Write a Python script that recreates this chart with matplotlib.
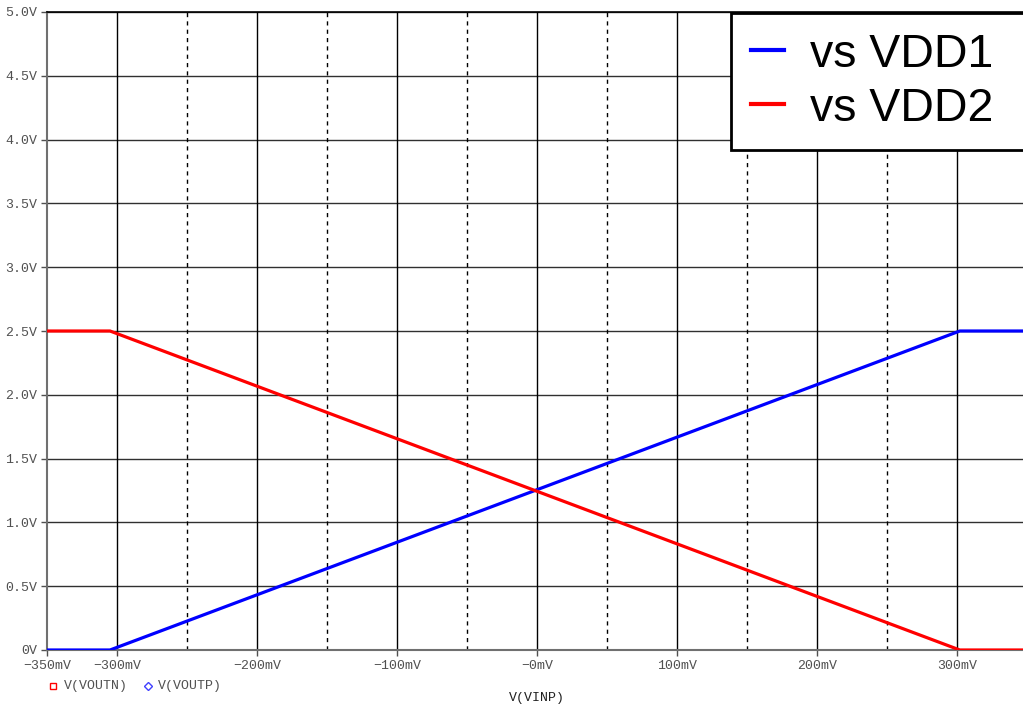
import matplotlib
matplotlib.use("Agg")
import matplotlib.pyplot as plt
from matplotlib.lines import Line2D

# Sweep of V(VINP) in mV and the two output traces in V
vinp_mv = [-350, -305, 302, 350]
vout_vdd1 = [0.0, 0.0, 2.5, 2.5]
vout_vdd2 = [2.5, 2.5, 0.0, 0.0]

x_ticks = [-350, -300, -200, -100, 0, 100, 200, 300]
x_tick_labels = ["\u2212350mV", "\u2212300mV", "\u2212200mV", "\u2212100mV",
                 "\u22120mV", "100mV", "200mV", "300mV"]
x_major_grid = [-300, -200, -100, 0, 100, 200, 300]
x_minor_grid = [-250, -150, -50, 50, 150, 250]
y_ticks = [0.0, 0.5, 1.0, 1.5, 2.0, 2.5, 3.0, 3.5, 4.0, 4.5, 5.0]
y_tick_labels = ["0V", "0.5V", "1.0V", "1.5V", "2.0V", "2.5V",
                 "3.0V", "3.5V", "4.0V", "4.5V", "5.0V"]
series_names = ["vs VDD1", "vs VDD2"]

W, H = 1023, 707
fig = plt.figure(figsize=(W / 100, H / 100), dpi=100)
ax = fig.add_axes([47 / W, 57 / H, (1027 - 47) / W, 638 / H])

mono = "Liberation Mono"
tick_color = "#505050"

ax.set_xlim(-350, 350)
ax.set_ylim(0, 5.0)

# grid
for y in y_ticks[1:]:
    ax.axhline(y, color="#303030", lw=1.0, zorder=1)
for x in x_major_grid:
    ax.axvline(x, color="black", lw=1.0, zorder=1)
for x in x_minor_grid:
    ax.axvline(x, color="black", lw=1.0, ls=(0, (3, 3)), zorder=1)

ax.plot(vinp_mv, vout_vdd1, color="#0000ff", lw=2.3, label=series_names[0], zorder=3)
ax.plot(vinp_mv, vout_vdd2, color="#ff0000", lw=2.3, label=series_names[1], zorder=3)

ax.set_xticks(x_ticks)
ax.set_xticklabels(x_tick_labels, fontfamily=mono, fontsize=9.5, color=tick_color)
ax.set_yticks(y_ticks)
ax.set_yticklabels(y_tick_labels, fontfamily=mono, fontsize=9.5, color=tick_color)
ax.tick_params(axis="both", direction="out", length=4, width=1, colors="#505050",
               labelcolor=tick_color, pad=3)

ax.spines["right"].set_visible(False)
ax.spines["top"].set_color("black")
ax.spines["top"].set_linewidth(1.2)
ax.spines["left"].set_color("#707070")
ax.spines["left"].set_linewidth(1.5)
ax.spines["bottom"].set_color("#707070")
ax.spines["bottom"].set_linewidth(1.5)

# legend box runs off the right edge of the figure
leg_x0, leg_top, leg_x1 = 731 / W, 1 - 13 / H, 1040 / W
leg = ax.legend(loc="upper left",
                bbox_to_anchor=(leg_x0, leg_top - 0.3, leg_x1 - leg_x0, 0.3),
                bbox_transform=fig.transFigure, borderaxespad=0, mode="expand",
                prop={"family": "Liberation Sans", "size": 33.5},
                handlelength=0.72, handletextpad=0.55, labelspacing=0.22,
                borderpad=0.42, fancybox=False, framealpha=1, edgecolor="black")
leg.get_frame().set_linewidth(2)
leg.set_zorder(5)
for h in leg.get_lines():
    h.set_linewidth(3)

# trace key below the axis
fig.add_artist(Line2D([53 / W], [1 - 686 / H], marker="s", ms=5, mfc="none",
                      mec="#ff0000", mew=1.0, transform=fig.transFigure))
fig.text(64 / W, 1 - 686 / H, "V(VOUTN)", fontfamily=mono, fontsize=9.5,
         color=tick_color, va="center", ha="left")
fig.add_artist(Line2D([148 / W], [1 - 686 / H], marker="D", ms=4, mfc="none",
                      mec="#4040ff", mew=1.0, transform=fig.transFigure))
fig.text(158 / W, 1 - 686 / H, "V(VOUTP)", fontfamily=mono, fontsize=9.5,
         color=tick_color, va="center", ha="left")
fig.text(537 / W, 1 - 698 / H, "V(VINP)", fontfamily=mono, fontsize=9.5,
         color="#202020", va="center", ha="center")

fig.savefig("out.png", dpi=100)
